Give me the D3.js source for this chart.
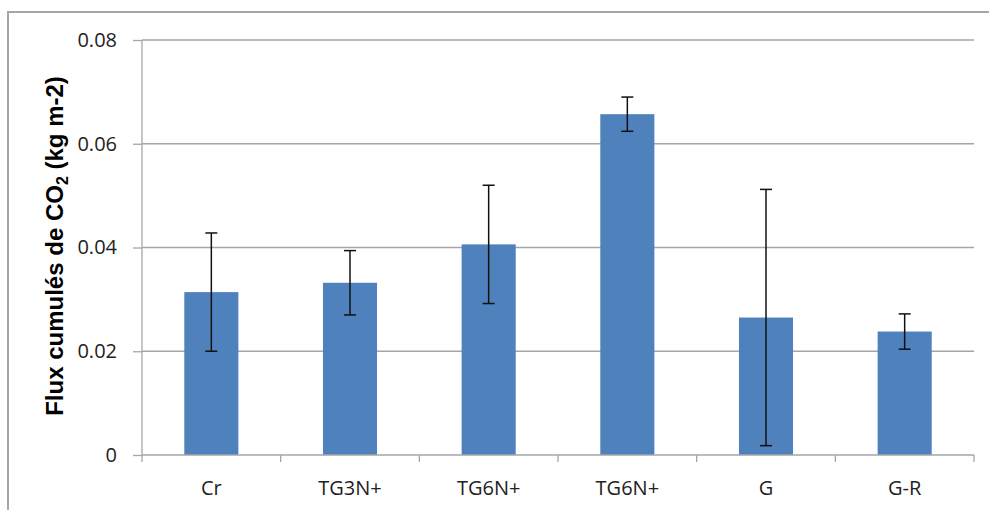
<!DOCTYPE html>
<html><head><meta charset="utf-8">
<script src="https://cdn.jsdelivr.net/npm/d3@7"></script>
<style>body{margin:0;background:#fff}svg{display:block}</style>
</head><body>
<svg id="c" width="989" height="510"></svg>
<script>
const categories = ["Cr", "TG3N+", "TG6N+", "TG6N+", "G", "G-R"];
const values = [0.0314, 0.0332, 0.0406, 0.0657, 0.0265, 0.0238];
const errors = [0.0114, 0.0062, 0.0114, 0.0033, 0.0247, 0.0034];
const yTicks = [0, 0.02, 0.04, 0.06, 0.08];
const yTickLabels = ["0", "0.02", "0.04", "0.06", "0.08"];

const svg = d3.select("#c");
const L = 142, R = 974, T = 40, B = 455;

// outer frame
svg.append("path").attr("d", `M8,510 V12 H989`).attr("fill", "none")
  .attr("stroke", "#a6a6a6").attr("stroke-width", 2);

const x = d3.scaleBand().domain(d3.range(categories.length)).range([L, R])
  .paddingInner(0.61).paddingOuter(0.305);
const y = d3.scaleLinear().domain([0, 0.08]).range([B, T]);

// gridlines
svg.append("g").selectAll("line").data(yTicks.filter(d => d > 0)).join("line")
  .attr("x1", L).attr("x2", R).attr("y1", d => y(d)).attr("y2", d => y(d))
  .attr("stroke", "#a6a6a6").attr("stroke-width", 1.3);

// y axis
const ya = svg.append("g").attr("transform", `translate(${L},0)`)
  .call(d3.axisLeft(y).tickValues(yTicks).tickFormat((d, i) => yTickLabels[i]).tickSize(9).tickPadding(16));
ya.select(".domain").attr("stroke", "#a6a6a6").attr("stroke-width", 1.3).attr("d", `M0,${T}V${B}`);
ya.selectAll(".tick line").attr("stroke", "#a6a6a6").attr("stroke-width", 1.3);
ya.selectAll("text").attr("font-family", "'Open Sans', sans-serif").attr("font-size", 20).attr("fill", "#222");

// bars
svg.append("g").selectAll("rect").data(values).join("rect")
  .attr("x", (d, i) => x(i)).attr("width", x.bandwidth())
  .attr("y", d => y(d)).attr("height", d => B - y(d))
  .attr("fill", "#4f81bd");

// x axis
const step = x.step();
const xa = svg.append("g");
xa.append("line").attr("x1", L).attr("x2", R).attr("y1", B).attr("y2", B)
  .attr("stroke", "#a6a6a6").attr("stroke-width", 1.3);
xa.selectAll("line.tk").data(d3.range(categories.length + 1)).join("line").attr("class", "tk")
  .attr("x1", i => L + i * step).attr("x2", i => L + i * step)
  .attr("y1", B).attr("y2", B + 7).attr("stroke", "#a6a6a6").attr("stroke-width", 1.3);
xa.selectAll("text").data(categories).join("text")
  .attr("x", (d, i) => x(i) + x.bandwidth() / 2).attr("y", 495)
  .attr("text-anchor", "middle").attr("font-family", "'Open Sans', sans-serif")
  .attr("font-size", 20).attr("fill", "#222").text(d => d);

// error bars
const eb = svg.append("g").attr("stroke", "#111").attr("stroke-width", 1.5);
values.forEach((v, i) => {
  const cx = x(i) + x.bandwidth() / 2;
  const y1 = y(v + errors[i]), y2 = y(v - errors[i]);
  eb.append("line").attr("x1", cx).attr("x2", cx).attr("y1", y1).attr("y2", y2);
  eb.append("line").attr("x1", cx - 6).attr("x2", cx + 6).attr("y1", y1).attr("y2", y1);
  eb.append("line").attr("x1", cx - 6).attr("x2", cx + 6).attr("y1", y2).attr("y2", y2);
});

// y title
const t = svg.append("text").attr("transform", `translate(63,246) rotate(-90)`)
  .attr("text-anchor", "middle").attr("font-family", "'Liberation Sans', Arial, sans-serif")
  .attr("font-weight", "bold").attr("font-size", 24).attr("fill", "#000");
t.append("tspan").text("Flux cumulés de CO");
t.append("tspan").attr("font-size", 16).attr("dy", 5).text("2");
t.append("tspan").attr("dy", -5).text(" (kg m-2)");
</script>
</body></html>
